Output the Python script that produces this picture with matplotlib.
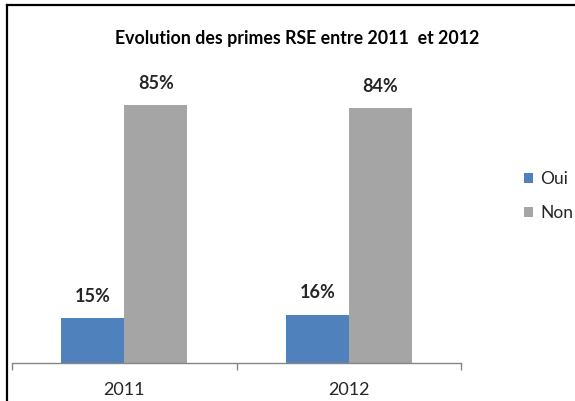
import matplotlib
matplotlib.use("Agg")
import matplotlib.pyplot as plt
from matplotlib.lines import Line2D
import numpy as np

plt.rcParams["font.family"] = ["Lato", "DejaVu Sans"]

years = ["2011", "2012"]
oui = [0.15, 0.16]
non = [0.85, 0.84]
title = "Evolution des primes RSE entre 2011  et 2012"

blue = "#4F81BD"
grey = "#A5A5A5"
text_col = "#262626"

fig = plt.figure(figsize=(5.75, 4.01), dpi=100)
ax = fig.add_axes([0.0209, 0.0948, 0.7809, 0.7556])

x = np.arange(len(years))
w = 0.28
b1 = ax.bar(x - w / 2, oui, w, color=blue, label="Oui")
b2 = ax.bar(x + w / 2, non, w, color=grey, label="Non")

# etiquettes au-dessus des barres
for bars, vals in ((b1, oui), (b2, non)):
    for rect, v in zip(bars, vals):
        ax.annotate(f"{v:.0%}", (rect.get_x() + rect.get_width() / 2, v),
                    xytext=(0, 15.5), textcoords="offset points",
                    ha="center", va="center", fontsize=13, fontweight="bold",
                    color=text_col)

ax.set_xlim(-0.5, len(years) - 0.5)
ax.set_ylim(0, 1)
ax.set_yticks([])
ax.set_xticks(x)
ax.set_xticklabels(years, fontsize=13, color=text_col)
ax.set_xticks(np.arange(-0.5, len(years)), minor=True)
ax.tick_params(axis="x", which="major", length=0, pad=14)
ax.tick_params(axis="x", which="minor", length=5, color="#868686", width=1)
for s in ("top", "right", "left"):
    ax.spines[s].set_visible(False)
ax.spines["bottom"].set_color("#868686")
ax.spines["bottom"].set_linewidth(1)

fig.text(0.516, 0.903, title, ha="center", va="center", fontsize=12.8,
         fontweight="bold", color="black")

ax.legend(loc="center left", bbox_to_anchor=(0.912, 0.511), bbox_transform=fig.transFigure,
          frameon=False, fontsize=12.5, handlelength=0.5, handleheight=0.5,
          handletextpad=0.4, labelspacing=1.05, borderpad=0, borderaxespad=0,
          labelcolor=text_col)

# cadre noir (haut et gauche)
fig.add_artist(Line2D([7 / 575, 7 / 575], [0, 1 - 5 / 401], color="black", lw=1.6,
                      transform=fig.transFigure, solid_capstyle="projecting"))
fig.add_artist(Line2D([7 / 575, 1], [1 - 5 / 401, 1 - 5 / 401], color="black", lw=1.6,
                      transform=fig.transFigure, solid_capstyle="projecting"))

fig.savefig("out.png", dpi=100)
